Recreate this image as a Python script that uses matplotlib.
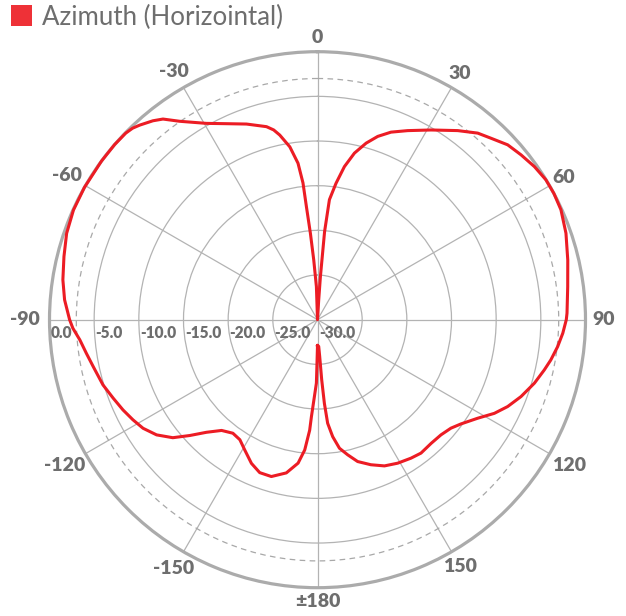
import numpy as np
import matplotlib
matplotlib.use("Agg")
import matplotlib.pyplot as plt
import matplotlib.transforms as mtransforms
from matplotlib.patches import Rectangle

# ---- data ----
angles_deg = [-180, -179.2, -179, -176.4, -175.95, -174.4, -172.3, -168.5, -163.6, -159.3,
              -155.3, -150.8, -147.1, -143.3, -139.1, -135.4, -132.2, -129.2, -125.6,
              -121.9, -118.5, -114.9, -111, -106.9, -101.8, -98.25, -94.85, -92, -90,
              -85.5, -81.1, -76, -71, -65.8, -60.4, -53.7, -49.2, -45.8, -44.0, -42.4, -39.6,
              -37.6, -34.8, -29.5, -24.95, -19.95, -14.8, -13.0, -11.56, -9.1, -7.1, -6.06,
              -5.6, -4.7, -3.6, -1.9, 0,
              3.5, 3.85, 4.6, 5.67, 7.72, 9.97, 12.5, 15.4, 18.2, 21.4, 25.5, 30.9,
              36.55, 40.65, 43.7, 47.4, 51.0, 54.8, 58.5, 61.9, 65.7, 70.8, 76.6, 82.5,
              88.5, 90, 93.15, 96.4, 99.8, 102.5, 106.3, 110.7, 114.55, 117.9, 121.6,
              126, 129.1, 133, 137.4, 142.2, 146, 150.8, 155.4, 159.8, 164.2, 167.4,
              170.3, 172.6, 174.4, 175.3, 176, 176.6, 177.4, 180]
gain_db = [-27.1, -24.4, -22.9, -19.1, -17.6, -15.35, -13.8, -12.5, -11.7, -11.7,
           -12.3, -13.3, -14.0, -14.15, -13.6, -12.3, -10.7, -9.1, -7.85,
           -7.0, -6.5, -6.0, -5.5, -4.9, -4.35, -3.85, -3.3, -2.6, -2.25,
           -1.6, -1.15, -0.75, -0.3, -0.05, 0.0, 0.0, 0.0, -0.05, -0.2, -0.5, -1.1,
           -1.65, -2.95, -4.75, -5.8, -6.7, -7.65, -8.2, -8.9, -10.4, -12.35, -14.6,
           -17.3, -20.3, -23.3, -26.3, -30.0,
           -27.8, -25.2, -20.1, -16.5, -14.6, -12.6, -10.9, -9.5, -8.4, -7.45, -6.55, -5.25,
           -3.65, -2.47, -1.9, -1.08, -0.68, -0.28, -0.02, 0.0, -0.1, -0.55, -1.2, -1.75,
           -2.06, -2.15, -2.5, -2.95, -3.5, -4.0, -4.7, -5.65, -6.6, -7.6, -8.95,
           -10.15, -10.75, -11.1, -11.2, -11.1, -11.3, -11.6, -12.0, -12.7, -13.5, -14.5,
           -15.4, -16.8, -18.35, -20.6, -23.25, -25.9, -27.0, -27.1]
series_name = "Azimuth (Horizointal)"
theta_ticks = [0, 30, 60, 90, 120, 150, 180, -150, -120, -90, -60, -30]
theta_labels = ["0", "30", "60", "90", "120", "150", "\u00b1180", "-150", "-120", "-90", "-60", "-30"]
r_ticks = [0.0, -5.0, -10.0, -15.0, -20.0, -25.0, -30.0]
r_min, r_max = -30, 0
half_power = -3

# ---- style ----
FONT = "Lato"
TXT = "#6e6e6e"
GRID = "#b3b3b3"
RED = "#ec1c24"

fig = plt.figure(figsize=(6.26, 6.16), dpi=100)
W, H = 626, 616
cx, cy, R = 317.5, 319.7, 268.0
ax = fig.add_axes([(cx - R) / W, (H - cy - R) / H, 2 * R / W, 2 * R / H], projection="polar")
ax.set_theta_zero_location("N")
ax.set_theta_direction(-1)
ax.set_rlim(r_min, r_max)

ax.set_thetagrids(np.arange(0, 360, 30), labels=[""] * 12)
grid_r = [-25, -20, -15, -10, -5, half_power]
ax.set_rgrids(grid_r, labels=[""] * len(grid_r))
ax.grid(True, color=GRID, linewidth=0.9)
for val, gl in zip(grid_r, ax.yaxis.get_gridlines()):
    if val == half_power:
        gl.set_linestyle((0, (4.5, 3.5)))
        gl.set_color("#a8a8a8")
        gl.set_linewidth(0.9)
ax.tick_params(axis="both", length=0)
ax.spines["polar"].set_color("#ababab")
ax.spines["polar"].set_linewidth(2.3)

th = np.deg2rad(angles_deg)
ax.plot(th, gain_db, color=RED, linewidth=2.2, solid_joinstyle="round", zorder=5, clip_on=False)

# radial labels along the -90 spoke
off = mtransforms.offset_copy(ax.transData, fig=fig, x=1.5, y=-5.0, units="dots")
for v in r_ticks:
    ax.text(np.deg2rad(-90), v, f"{v:.1f}", transform=off, ha="left", va="top",
            fontsize=11.2, fontweight="heavy", color=TXT, family=FONT, zorder=6)

# angle labels
label_dist = {0: 282, 30: 284, 60: 284, 90: 286, 120: 291, 150: 285, 180: 282,
              -150: 287, -120: 292, -90: 293, -60: 289, -30: 287}
for t, lab in zip(theta_ticks, theta_labels):
    d = label_dist[t] / (2 * R)
    a = np.deg2rad(t)
    ax.text(0.5 + d * np.sin(a), 0.5 + d * np.cos(a), lab, transform=ax.transAxes,
            ha="center", va="center", fontsize=14, fontweight="heavy", color=TXT,
            family=FONT, clip_on=False)

# legend
fig.patches.append(Rectangle((11 / W, 1 - 26 / H), 21 / W, 21 / H, transform=fig.transFigure,
                             facecolor="#ee3137", edgecolor="none"))
fig.text(42 / W, 1 - 17 / H, series_name, ha="left", va="center", fontsize=18.6,
         color=TXT, family=FONT)

fig.savefig("out.png", dpi=100)
